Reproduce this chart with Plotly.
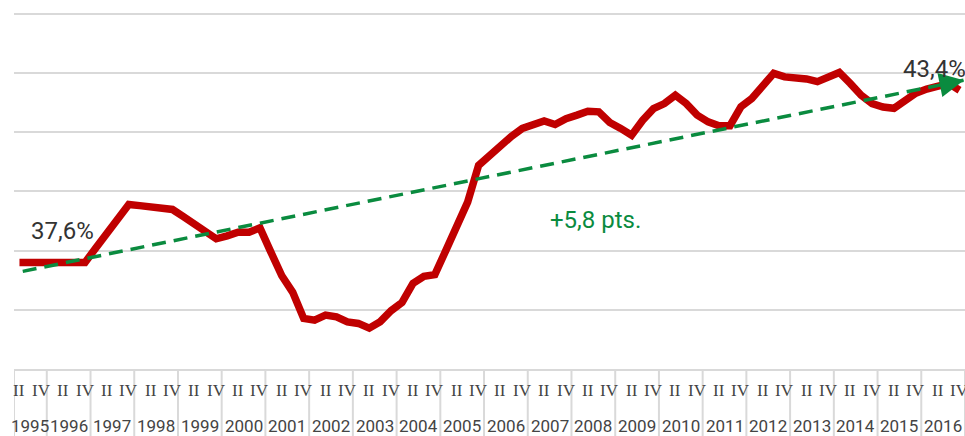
import plotly.graph_objects as go

# ---------------- data ----------------
years = list(range(1995, 2017))
# quarters per year in the series (1995 starts at Q2)
quarters_per_year = [3] + [4] * 21
quarter_labels = {2: "II", 4: "IV"}

values = [
    37.60, 37.60, 37.60, 37.60, 37.58, 37.58, 37.60, 38.10, 38.60, 39.10,
    39.56, 39.52, 39.48, 39.44, 39.39, 39.15, 38.90, 38.65, 38.40, 38.50,
    38.62, 38.62, 38.77, 37.95, 37.15, 36.59, 35.71, 35.65, 35.82, 35.76,
    35.59, 35.54, 35.38, 35.60, 35.97, 36.25, 36.89, 37.13, 37.19, 38.00,
    38.79, 39.64, 40.88, 41.22, 41.56, 41.86, 42.13, 42.27, 42.38, 42.26,
    42.46, 42.58, 42.71, 42.69, 42.33, 42.13, 41.90, 42.40, 42.80, 42.97,
    43.25, 42.97, 42.58, 42.35, 42.22, 42.22, 42.86, 43.14, 43.54, 43.99,
    43.87, 43.84, 43.80, 43.71, 43.86, 44.02, 43.65, 43.25, 42.97, 42.85,
    42.81, 43.05, 43.32, 43.46, 43.54, 43.65, 43.42,
]

trend_x = [0.3, 86.4]
trend_y = [37.30, 43.76]

start_label = "37,6%"
end_label = "43,4%"
change_label = "+5,8 pts."

RED = "#C00000"
GREEN = "#0A8B3F"
GRID = "#D9D9D9"

# ---------------- build quarter index / labels ----------------
qx = []
qnum = []
year_spans = []
idx = 0
for y, n in zip(years, quarters_per_year):
    start_q = 5 - n
    first = idx
    for k in range(n):
        qx.append(idx)
        qnum.append(start_q + k)
        idx += 1
    year_spans.append((y, first - 0.5, idx - 0.5))

fig = go.Figure()

fig.add_trace(go.Scatter(
    x=qx, y=values, mode="lines",
    line=dict(color=RED, width=7.5),
    hoverinfo="skip", showlegend=False,
))

fig.add_trace(go.Scatter(
    x=trend_x, y=trend_y, mode="lines",
    line=dict(color=GREEN, width=3.5, dash="14px,8px"),
    hoverinfo="skip", showlegend=False,
))

PLOT_TOP = 5
PLOT_BOTTOM = 369
H = PLOT_BOTTOM - PLOT_TOP


def py(pixel):
    return (PLOT_BOTTOM - pixel) / H


annotations = []
shapes = []
for i, q in zip(qx, qnum):
    if q in quarter_labels:
        annotations.append(dict(
            x=i, y=py(390), xref="x", yref="paper", text=quarter_labels[q],
            showarrow=False, xanchor="center", yanchor="middle",
            font=dict(family="Liberation Serif", size=17, color="#444444"),
        ))
for y, x0, x1 in year_spans:
    annotations.append(dict(
        x=(x0 + x1) / 2, y=py(426), xref="x", yref="paper", text=str(y),
        showarrow=False, xanchor="center", yanchor="middle",
        font=dict(family="Roboto", size=17, color="#444444"),
    ))
    shapes.append(dict(type="line", xref="x", yref="paper", x0=x0, x1=x0,
                       y0=0, y1=py(440), line=dict(color=GRID, width=2)))
shapes.append(dict(type="line", xref="x", yref="paper",
                   x0=year_spans[-1][2], x1=year_spans[-1][2],
                   y0=0, y1=py(440), line=dict(color=GRID, width=2)))

# arrow head at the end of the trend line
tx0, tx1 = trend_x
ty0, ty1 = trend_y
back = 1.2
annotations.append(dict(
    x=tx1, y=ty1, xref="x", yref="y",
    ax=tx1 - back, ay=ty1 - (ty1 - ty0) / (tx1 - tx0) * back,
    axref="x", ayref="y", text="", showarrow=True,
    arrowhead=2, arrowsize=1.4, arrowwidth=3.5, arrowcolor=GREEN,
    standoff=0, startstandoff=0,
))

annotations += [
    dict(x=3.98, y=38.68, xref="x", yref="y", text=start_label, showarrow=False,
         xanchor="center", yanchor="middle",
         font=dict(family="Roboto", size=24, color="#333333")),
    dict(x=83.7, y=44.14, xref="x", yref="y", text=end_label, showarrow=False,
         xanchor="center", yanchor="middle",
         font=dict(family="Roboto", size=24, color="#333333")),
    dict(x=52.7, y=39.05, xref="x", yref="y", text=change_label, showarrow=False,
         xanchor="center", yanchor="middle",
         font=dict(family="Roboto", size=24, color=GREEN)),
]

fig.update_layout(
    width=965, height=436,
    margin=dict(l=14, r=0, t=PLOT_TOP, b=436 - PLOT_BOTTOM, pad=0),
    paper_bgcolor="white", plot_bgcolor="white",
    xaxis=dict(range=[-0.5, len(values) - 0.5], showgrid=False, zeroline=False,
               showticklabels=False, ticks="", showline=True,
               linecolor=GRID, linewidth=2),
    yaxis=dict(range=[34, 46.3], dtick=2, tick0=34, showgrid=True,
               gridcolor=GRID, gridwidth=2, zeroline=False,
               showticklabels=False, ticks="", showline=False),
    annotations=annotations,
    shapes=shapes,
    showlegend=False,
)

fig.write_html(
    "out.html",
    config={"displayModeBar": False},
    post_script="document.body.style.margin='0';document.body.style.overflow='hidden';",
)
